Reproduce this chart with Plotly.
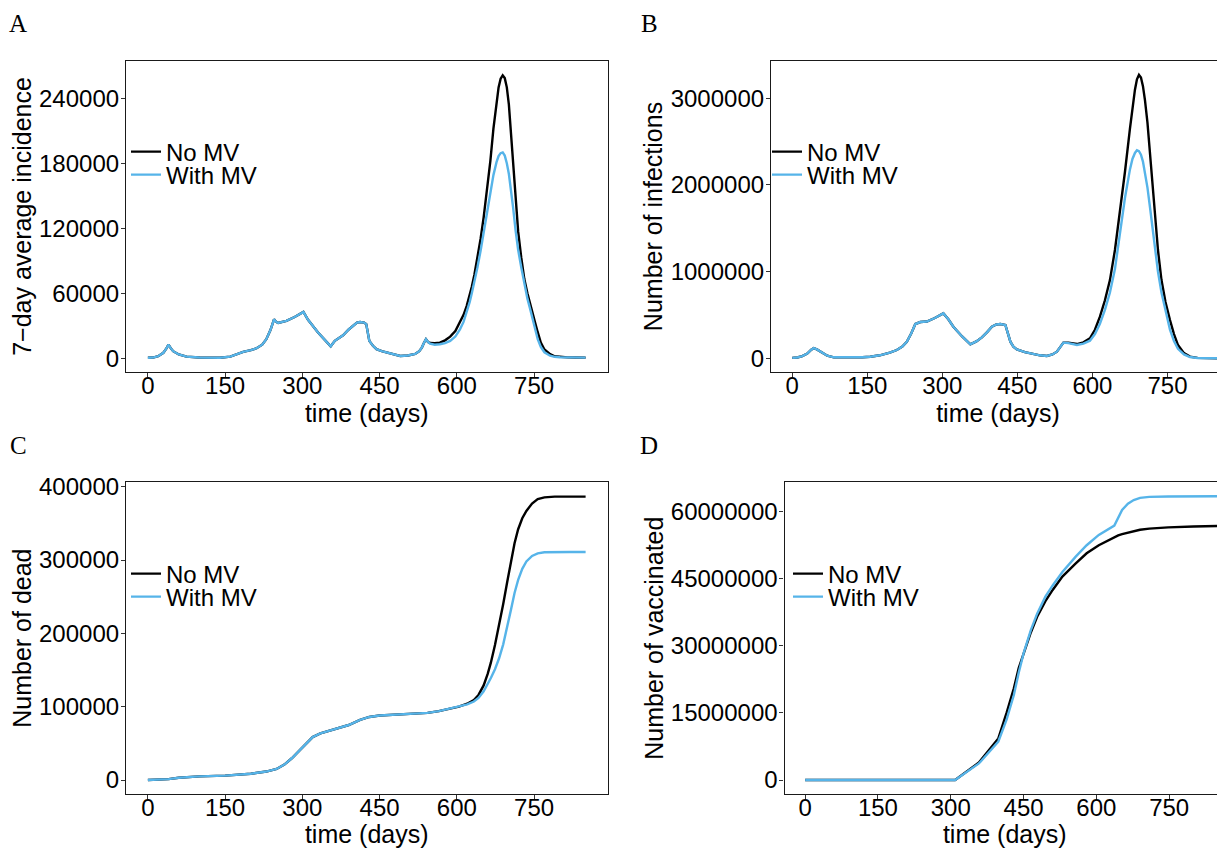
import plotly.graph_objects as go

# ---------------- data ----------------
# Panel A: 7-day average incidence
days_A = [0, 10, 20, 30, 36, 40, 44, 49, 60, 75, 100, 140, 160, 185, 200, 211, 222, 230, 238, 245,
          249, 253, 269, 285, 302, 306, 311, 330, 345, 355, 363, 371, 379, 390, 399, 406, 412, 420,
          424, 427, 430, 437, 444, 454, 464, 477, 490, 505, 519, 527, 532, 536, 540, 544, 548,
          557, 567, 577, 587, 597, 606, 613, 619, 625, 629, 634, 640, 646, 652, 659, 665, 671, 677,
          681, 685, 689, 693, 697, 701, 705, 709, 714, 719, 725, 731, 737, 742, 747, 752, 757, 763,
          770, 781, 790, 800, 815, 830, 850]
inc_noMV = [400, 600, 1800, 5000, 9000, 12600, 9500, 6500, 3500, 1500, 600, 400, 1500, 5800, 7500, 9200,
            12500, 17500, 26000, 35900, 33500, 32500, 34400, 38000, 42700, 39000, 35500, 24000, 16000,
            11000, 16000, 18500, 21200, 26500, 30400, 32800, 33400, 32800, 31500, 24000, 16000, 11500,
            8300, 6500, 5200, 3500, 2100, 2500, 4000, 6500, 9800, 14000, 17500, 15000, 14000,
            13800, 14400, 16500, 19900, 25000, 32800, 40000, 48100, 58000, 66000, 77000, 92000, 110000,
            130000, 156000, 182000, 212000, 238000, 250000, 258000, 261000, 258500, 250000, 234000,
            206000, 178000, 145000, 117000, 93000, 73000, 60000, 50000, 41000, 32800, 24000, 14400,
            8000, 3700, 1800, 1200, 800, 600, 500]
inc_MV = [400, 600, 1800, 5000, 9000, 12600, 9500, 6500, 3500, 1500, 600, 400, 1500, 5800, 7500, 9200,
          12500, 17500, 26000, 35900, 33500, 32500, 34400, 38000, 42700, 39000, 35500, 24000, 16000,
          11000, 16000, 18500, 21200, 26500, 30400, 32800, 33400, 32800, 31500, 24000, 16000, 11500,
          8300, 6500, 5200, 3500, 2100, 2500, 4000, 6500, 9800, 14000, 17500, 15000, 13500,
          12500, 12900, 14000, 16000, 20000, 26700, 33500, 42000, 52000, 60000, 70500, 84000, 99000,
          115000, 135000, 153000, 169000, 181000, 186500, 189300, 190000, 187000, 180000, 170000,
          157000, 140000, 118000, 100000, 84000, 68000, 55000, 46000, 35500, 25500, 17500, 10500,
          5500, 2300, 1300, 900, 700, 600, 500]

# Panel B: number of infections
days_B = [0, 10, 20, 30, 38, 43, 50, 60, 70, 83, 110, 140, 156, 175, 195, 209, 220, 229, 238, 246,
          256, 269, 285, 302, 312, 322, 340, 356, 368, 379, 390, 399, 408, 416, 426, 431, 436, 442,
          449, 465, 482, 495, 509, 520, 529, 536, 542, 552, 569, 582, 595, 605, 615, 625, 635, 645,
          655, 665, 675, 680, 685, 689, 693, 697, 701, 705, 710, 716, 724, 731, 738, 746, 755, 763,
          771, 783, 795, 810, 830, 850]
inf_noMV = [5000, 10000, 25000, 55000, 100000, 119000, 100000, 60000, 30000, 12000, 10000, 12000, 18000,
            35000, 65000, 96000, 135000, 192000, 290000, 396000, 419000, 425000, 465000, 519000, 450000,
            365000, 250000, 161000, 195000, 242000, 305000, 365000, 390000, 396000, 385000, 300000,
            192000, 135000, 104000, 72000, 50000, 35000, 27000, 45000, 77000, 130000, 181000, 181000,
            165000, 185000, 231000, 330000, 481000, 670000, 903000, 1250000, 1680000, 2150000, 2650000,
            2900000, 3100000, 3220000, 3270000, 3240000, 3140000, 2980000, 2720000, 2300000, 1700000,
            1250000, 903000, 650000, 442000, 280000, 153000, 60000, 20000, 5000, 2000, 1000]
inf_MV = [5000, 10000, 25000, 55000, 100000, 119000, 100000, 60000, 30000, 12000, 10000, 12000, 18000,
          35000, 65000, 96000, 135000, 192000, 290000, 396000, 419000, 425000, 465000, 519000, 450000,
          365000, 250000, 161000, 195000, 242000, 305000, 365000, 390000, 396000, 385000, 300000,
          192000, 135000, 104000, 72000, 50000, 35000, 27000, 45000, 77000, 130000, 181000, 175000,
          154000, 170000, 204000, 280000, 400000, 560000, 760000, 1030000, 1420000, 1850000, 2180000,
          2300000, 2370000, 2400000, 2390000, 2350000, 2270000, 2150000, 1970000, 1700000, 1300000,
          1000000, 760000, 560000, 330000, 200000, 110000, 45000, 15000, 4000, 2000, 1000]

# Panel C: number of dead
days_C = [0, 20, 40, 60, 80, 100, 150, 200, 230, 250, 265, 280, 297, 310, 320, 335, 351, 370, 390, 412,
          430, 450, 481, 520, 543, 565, 585, 604, 620, 633, 642, 652, 660, 666, 674, 682, 690, 698,
          705, 712, 719, 727, 735, 746, 757, 770, 790, 820, 850]
dead_noMV = [0, 200, 1200, 3000, 4500, 5000, 6000, 8500, 11500, 15000, 21000, 30000, 42000, 52000,
             58500, 63500, 67000, 70500, 75000, 82000, 86000, 88000, 89500, 90500, 91500, 94000, 97000,
             100000, 104000, 109000, 116000, 129000, 145000, 160000, 184000, 210000, 240000, 271000,
             298000, 323000, 342000, 357000, 367000, 377000, 383000, 385500, 386500, 386500, 386500]
dead_MV = [0, 200, 1200, 3000, 4500, 5000, 6000, 8500, 11500, 15000, 21000, 30000, 42000, 52000,
           58500, 63500, 67000, 70500, 75000, 82000, 86000, 88000, 89500, 90500, 91500, 94000, 97000,
           100000, 103000, 107000, 112000, 121000, 131000, 139000, 151000, 166000, 185000, 208000,
           232000, 255000, 273000, 288000, 298000, 305500, 309000, 310500, 311000, 311000, 311000]

# Panel D: number of vaccinated
days_D = [0, 100, 200, 309, 358, 398, 415, 430, 440, 450, 465, 478, 495, 510, 530, 557, 580, 605, 637,
          645, 653, 665, 677, 690, 709, 748, 800, 850]
vac_noMV = [0, 0, 0, 0, 3.9e6, 9.3e6, 15.0e6, 20.5e6, 25.0e6, 28.3e6, 33.0e6, 36.5e6, 40.0e6, 42.5e6,
            45.5e6, 48.4e6, 50.7e6, 52.5e6, 54.4e6, 54.7e6, 55.0e6, 55.35e6, 55.7e6, 55.95e6, 56.2e6,
            56.5e6, 56.7e6, 56.8e6]
vac_MV = [0, 0, 0, 0, 3.7e6, 8.6e6, 13.5e6, 19.0e6, 24.0e6, 28.3e6, 33.5e6, 37.2e6, 41.0e6, 43.5e6,
          46.5e6, 49.9e6, 52.5e6, 54.8e6, 56.9e6, 58.5e6, 60.4e6, 61.8e6, 62.6e6, 63.1e6, 63.3e6,
          63.4e6, 63.45e6, 63.45e6]

series_names = ["No MV", "With MV"]
x_ticks = [0, 150, 300, 450, 600, 750]
yticks_A = [0, 60000, 120000, 180000, 240000]
yticks_B = [0, 1000000, 2000000, 3000000]
yticks_C = [0, 100000, 200000, 300000, 400000]
yticks_D = [0, 15000000, 30000000, 45000000, 60000000]

# ---------------- style ----------------
OFF = 8                      # default page body margin
W, H = 1225 - OFF, 848 - OFF
BLACK = "#000000"
BLUE = "#56B4E9"
SANS = "Liberation Sans, Arial, sans-serif"
SERIF = "Liberation Serif, Times New Roman, serif"
LW = 2.4

def px_x(p):
    return (p - OFF) / W

def px_y(p):
    return 1 - (p - OFF) / H

fig = go.Figure()

panels = [
    ("x", "y", ("legend", "legend2"), days_A, inc_noMV, inc_MV),
    ("x2", "y2", ("legend3", "legend4"), days_B, inf_noMV, inf_MV),
    ("x3", "y3", ("legend5", "legend6"), days_C, dead_noMV, dead_MV),
    ("x4", "y4", ("legend7", "legend8"), days_D, vac_noMV, vac_MV),
]
for xa, ya, lg, d, s1, s2 in panels:
    fig.add_trace(go.Scatter(x=d, y=s1, mode="lines", name=series_names[0], showlegend=True,
                             line=dict(color=BLACK, width=LW), xaxis=xa, yaxis=ya, legend=lg[0]))
    fig.add_trace(go.Scatter(x=d, y=s2, mode="lines", name=series_names[1], showlegend=True,
                             line=dict(color=BLUE, width=LW), xaxis=xa, yaxis=ya, legend=lg[1]))

tickfont = dict(family=SANS, size=24, color="#000000")
titlefont = dict(family=SANS, size=25, color="#000000")

def xaxis(dom, anchor, rng):
    return dict(domain=dom, anchor=anchor, range=rng, tickvals=x_ticks, ticktext=[str(v) for v in x_ticks],
                showgrid=False, zeroline=False, showline=True, linecolor="#1a1a1a", linewidth=1.2,
                mirror=True, ticks="outside", ticklen=4, tickwidth=1, tickcolor="#333333",
                tickfont=tickfont, ticklabelstandoff=-12,
                title=dict(text="time (days)", font=titlefont, standoff=2), automargin=False)

def yaxis(dom, anchor, rng, tv, title, mirror=True):
    return dict(domain=dom, anchor=anchor, range=rng, tickvals=tv, ticktext=[str(int(v)) for v in tv],
                showgrid=False, zeroline=False, showline=True, linecolor="#1a1a1a", linewidth=1.2,
                mirror=mirror, ticks="outside", ticklen=4, tickwidth=1, tickcolor="#333333",
                tickfont=tickfont, ticklabelstandoff=-3,
                title=dict(text=title, font=titlefont, standoff=0), automargin=False)

top_dom = [px_y(372.3), px_y(60.7)]
bot_dom = [px_y(794.0), px_y(482.3)]

fig.update_layout(
    width=W, height=H,
    margin=dict(l=0, r=0, t=0, b=0),
    showlegend=True,
    paper_bgcolor="white", plot_bgcolor="white",
    font=dict(family=SANS, color="#000000"),
    xaxis=xaxis([px_x(126), px_x(607.5)], "y", [-42.5, 892.5]),
    yaxis=yaxis(top_dom, "x", [-13000, 274600], yticks_A, "7\u2212day average incidence"),
    xaxis2=xaxis([px_x(771), 1.0], "y2", [-42.5, 865]),
    yaxis2=yaxis(top_dom, "x2", [-161000, 3434000], yticks_B, "Number of infections", mirror=False),
    xaxis3=xaxis([px_x(126), px_x(607.5)], "y3", [-42.5, 892.5]),
    yaxis3=yaxis(bot_dom, "x3", [-19100, 406000], yticks_C, "Number of dead"),
    xaxis4=xaxis([px_x(784.5), 1.0], "y4", [-42.5, 865]),
    yaxis4=yaxis(bot_dom, "x4", [-3130000, 66570000], yticks_D, "Number of vaccinated", mirror=False),
)

legend_common = dict(xanchor="left", yanchor="middle", bgcolor="rgba(0,0,0,0)", borderwidth=0,
                     font=dict(family=SANS, size=24, color="#000000"), tracegroupgap=0, itemwidth=30,
                     visible=True)
legend_pos = {
    "legend": (126, 152), "legend2": (126, 175),
    "legend3": (767, 152), "legend4": (767, 175),
    "legend5": (126, 574), "legend6": (126, 597),
    "legend7": (788, 574), "legend8": (788, 597),
}
fig.update_layout(**{k: dict(x=px_x(v[0]), y=px_y(v[1]), **legend_common) for k, v in legend_pos.items()})

for lab, xp, yp in [("A", 18, 23), ("B", 649, 23), ("C", 18, 445), ("D", 649, 445)]:
    fig.add_annotation(text=lab, x=px_x(xp), y=px_y(yp), xref="paper", yref="paper",
                       xanchor="center", yanchor="middle", showarrow=False,
                       font=dict(family=SERIF, size=25, color="#000000"))

fig.write_html("out.html")
